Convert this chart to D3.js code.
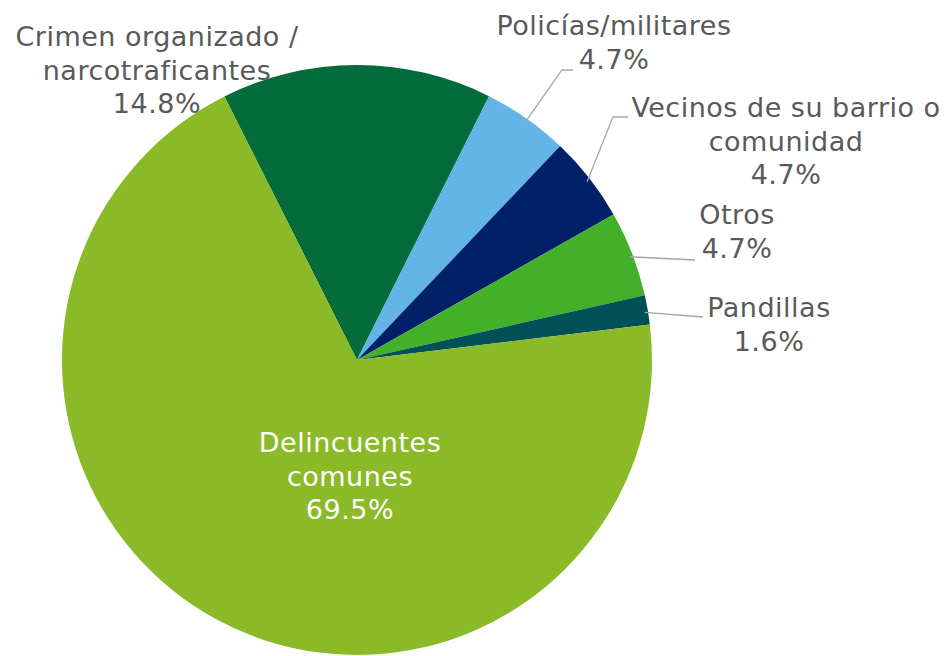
<!DOCTYPE html>
<html>
<head>
<meta charset="utf-8">
<script src="https://cdn.jsdelivr.net/npm/d3@7"></script>
<style>
  body { margin: 0; background: #fff; }
  svg { display: block; font-family: "DejaVu Sans", Verdana, sans-serif; }
</style>
</head>
<body>
<div id="chart"></div>
<script>
// data, clockwise from the top-left slice
var categories = ["Crimen organizado / narcotraficantes", "Policías/militares", "Vecinos de su barrio o comunidad", "Otros", "Pandillas", "Delincuentes comunes"];
var values = [14.8, 4.7, 4.7, 4.7, 1.6, 69.5];
var labelLines = [
  ["Crimen organizado /", "narcotraficantes", "14.8%"],
  ["Policías/militares", "4.7%"],
  ["Vecinos de su barrio o", "comunidad", "4.7%"],
  ["Otros", "4.7%"],
  ["Pandillas", "1.6%"],
  ["Delincuentes", "comunes", "69.5%"]
];
var colors = ["#046b3a", "#62b5e5", "#002169", "#43b02a", "#005157", "#8aba28"];

// label layout: center x, first line center y, leader end/elbow
var labelPos = [
  {x: 157, y: 37, leader: null},
  {x: 614, y: 26, leader: [[562, 70], [573, 70]]},
  {x: 786, y: 108, leader: [[613, 117], [628, 117]]},
  {x: 737, y: 215, leader: [[695, 260]]},
  {x: 769, y: 308, leader: [[703, 317]]},
  {x: 350, y: 443, leader: null}
];

var width = 944, height = 656;
var cx = 357, cy = 360, radius = 295;
var lineH = 33.5;

var svg = d3.select("#chart")
  .append("svg")
    .attr("width", width)
    .attr("height", height);

var pie = d3.pie()
  .sort(null)
  .startAngle(-26.7 * Math.PI / 180)
  .endAngle((360 - 26.7) * Math.PI / 180)
  .value(function(d) { return d; });

var arcs = pie(values);

var arc = d3.arc()
  .innerRadius(0)
  .outerRadius(radius);

var g = svg.append("g")
  .attr("transform", "translate(" + cx + "," + cy + ")");

g.selectAll("path")
  .data(arcs)
  .enter()
  .append("path")
    .attr("d", arc)
    .attr("fill", function(d, i) { return colors[i]; });

// leader lines
var line = d3.line();
arcs.forEach(function(d, i) {
  var p = labelPos[i];
  if (!p.leader) return;
  var a = (d.startAngle + d.endAngle) / 2;
  var start = [cx + radius * 0.99 * Math.sin(a), cy - radius * 0.99 * Math.cos(a) + 2];
  svg.append("path")
    .attr("d", line([start].concat(p.leader)))
    .attr("fill", "none")
    .attr("stroke", "#a6a6a6")
    .attr("stroke-width", 1.3);
});

// labels
labelLines.forEach(function(lines, i) {
  var p = labelPos[i];
  var t = svg.append("text")
    .attr("text-anchor", "middle")
    .attr("font-size", 27)
    .attr("letter-spacing", 0.5)
    .attr("fill", i === 5 ? "#ffffff" : "#595959");
  lines.forEach(function(s, j) {
    t.append("tspan")
      .attr("x", p.x)
      .attr("y", p.y + j * lineH)
      .attr("dy", "0.35em")
      .text(s);
  });
});
</script>
</body>
</html>
